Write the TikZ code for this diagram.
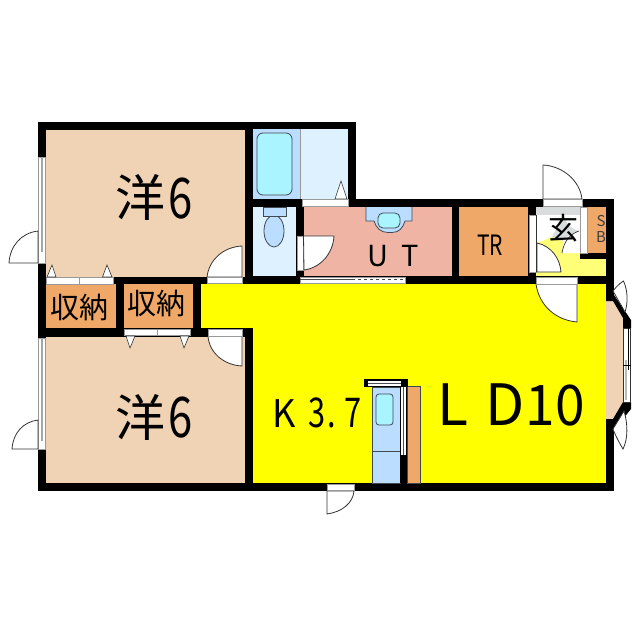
\documentclass[tikz,border=0pt]{standalone}
\usepackage{fontspec}
\setmainfont{Noto Sans CJK JP}
\definecolor{peach}{HTML}{F0D2B4}
\definecolor{closet}{HTML}{F0A868}
\definecolor{utroom}{HTML}{F0B4A4}
\definecolor{pale}{HTML}{DDF1FF}
\definecolor{midblue}{HTML}{BBDDFF}
\definecolor{aqua}{HTML}{AAF4FF}
\definecolor{lemon}{RGB}{255,255,0}
\definecolor{softyellow}{HTML}{FFFF77}
\definecolor{tile}{HTML}{D8DCDC}
\definecolor{edge}{HTML}{404850}
\tikzset{
  wall/.style={fill=black,draw=none},
  sash/.style={fill=white,draw=gray!80,line width=0.7pt},
  leaf/.style={fill=white,draw=black!80,line width=0.8pt},
  fixture/.style={draw=edge,line width=0.8pt},
  label/.style={inner sep=0pt,text=black,transform shape},
  baselabel/.style={label,anchor=base},
}
\begin{document}
\begin{tikzpicture}[x=1pt,y=-1pt]
\useasboundingbox (0,0) rectangle (640,640);
\fill[white] (0,0) rectangle (640,640);
% room floors
\fill[peach] (46,130) rectangle (245,277);
\fill[peach] (46,337) rectangle (245,483);
\fill[closet] (46,284) rectangle (116,328);
\fill[closet] (124,284) rectangle (193,328);
\fill[midblue] (253,129) rectangle (300,199);
\fill[pale] (300,129) rectangle (348,199);
\fill[pale] (253,207) rectangle (296,276);
\fill[utroom] (304,207) rectangle (452,277);
\fill[closet] (459,207) rectangle (528,277);
\fill[closet] (588,207) rectangle (606,253);
\fill[lemon] (201,284) rectangle (253,328);
\fill[lemon] (253,284) rectangle (606,483);
\fill[white] (536,207) rectangle (580,277);
\fill[softyellow] (537,243) -- (552,237) -- (563,241) -- (562,253) -- (606,253) -- (606,277) -- (536,277) -- cycle;
\fill[tile] (536,207) rectangle (580,215);
\fill[tile] (564,215) .. controls (566,224) and (571,229) .. (579,231) .. controls (572,233) and (566,237) .. (563,241) -- (552,237) -- cycle;
\draw[draw=gray!80,line width=0.6pt] (300,129) -- (300,199);
% bay window floor
\fill[peach] (606,301) -- (613,301) -- (623,318) -- (623,402) -- (613,419) -- (606,419) -- cycle;
% walls
\fill[wall] (38,122) rectangle (253,130);
\fill[wall] (245,122) rectangle (356,129);
\fill[wall] (348,122) rectangle (356,207);
\fill[wall] (253,199) rectangle (614,207);
\fill[wall] (38,122) rectangle (46,491);
\fill[wall] (245,122) rectangle (253,284);
\fill[wall] (38,277) rectangle (253,284);
\fill[wall] (296,207) rectangle (304,284);
\fill[wall] (253,276) rectangle (614,284);
\fill[wall] (452,199) rectangle (459,284);
\fill[wall] (528,199) rectangle (536,284);
\fill[wall] (606,199) rectangle (614,301);
\fill[wall] (606,419) rectangle (614,491);
\fill[wall] (580,253) rectangle (614,259);
\fill[wall] (116,284) rectangle (124,328);
\fill[wall] (193,284) rectangle (201,337);
\fill[wall] (38,328) rectangle (253,337);
\fill[wall] (245,328) rectangle (253,491);
\fill[wall] (38,483) rectangle (614,491);
% bay window frame
\fill[wall] (614,295) -- (631,320) -- (631,328) -- (623,328) -- (623,318) -- (613,301) -- (606,301) -- (606,295) -- cycle;
\fill[wall] (623,402) -- (631,402) -- (631,409) -- (614,430) -- (606,430) -- (606,419) -- (613,419) -- (623,402) -- cycle;
\fill[white] (624,328) rectangle (630,402);
\draw[black!80,line width=0.6pt] (623.5,328) rectangle (630.5,402);
\fill[gray!55] (624.5,360) rectangle (626.5,400);
\draw[black,line width=0.6pt] (623,365) -- (631,365);
\draw[black,line width=0.6pt] (628,328) -- (628,370);
\draw[leaf] (613,291) .. controls (616,287) and (620,283) .. (623.5,281) .. controls (628,291) and (628,303) .. (625,312) -- cycle;
\draw[leaf] (613,429) .. controls (616,437) and (620,444) .. (623,449) .. controls (628,439) and (628,424) .. (624,411) -- cycle;
% left windows
\fill[white] (38,157) rectangle (46,263);
\draw[gray!80,line width=0.6pt] (38.4,157) rectangle (45.6,263);
\fill[gray!70] (41,157) rectangle (43,252);
\fill[white] (38,338) rectangle (46,449);
\draw[gray!80,line width=0.6pt] (38.4,338) rectangle (45.6,449);
\fill[gray!70] (41,338) rectangle (43,441);
\draw[leaf] (38,231) .. controls (21,233) and (10,246) .. (9,263) -- (38,263) -- cycle;
\draw[leaf] (38,420) .. controls (23,422) and (13,433) .. (12,449) -- (38,449) -- cycle;
% room doors
\draw[leaf] (242,277) -- (242,246) .. controls (223,247) and (209,260) .. (207,277) -- cycle;
\draw[leaf] (242,336) -- (242,366) .. controls (223,365) and (209,352) .. (208,336) -- cycle;
\draw[sash] (207,277) rectangle (242,283.5);
\draw[sash] (208,329) rectangle (242,336);
% closet doors
\draw[sash] (46,277) rectangle (79.5,284);
\draw[sash] (79.5,277) rectangle (113,284);
\draw[leaf,line width=0.6pt] (47,277) -- (52,265) -- (56,277) -- cycle;
\draw[leaf,line width=0.6pt] (102.5,277) -- (107,265) -- (112,277) -- cycle;
\draw[sash] (124.5,329) rectangle (157,335.5);
\draw[sash] (157,329) rectangle (190,335.5);
\draw[leaf,line width=0.6pt] (126,336) -- (130,348) -- (135,336) -- cycle;
\draw[leaf,line width=0.6pt] (180,336) -- (184,348) -- (189,336) -- cycle;
% bath fixtures
\filldraw[fixture,fill=aqua,rounded corners=6pt] (257,133) rectangle (292,195);
\draw[leaf,line width=0.6pt] (335,199) -- (341,181) -- (347,199) -- cycle;
\fill[white] (302,199.5) rectangle (348,206);
\draw[gray!80,line width=0.5pt] (302,199.5) rectangle (348,206);
% toilet
\filldraw[fixture,fill=midblue] (274,231) ellipse [x radius=10pt,y radius=16pt];
\filldraw[fixture,fill=midblue] (263,207) rectangle (286,216);
% washbasin
\filldraw[fixture,fill=midblue] (366,207) -- (366,221) -- (374,221) .. controls (376,228) and (381,232.5) .. (388,232.5) -- (392,232.5) .. controls (399,232.5) and (403,228) .. (405,221) -- (412,221) -- (412,207);
\filldraw[fixture,fill=aqua,rounded corners=5pt] (378,213) rectangle (400,228);
% UT door and sliding door
\draw[sash] (297,236) rectangle (303.5,270);
\draw[leaf] (303.5,236) -- (334,236) .. controls (333,254) and (320,268) .. (304,270) -- cycle;
\fill[white] (300,277.5) rectangle (405,283.5);
\draw[gray!80,line width=0.6pt] (300,277.5) rectangle (405,283.5);
\draw[black!70,line width=0.7pt] (300,279.5) -- (352,279.5);
\draw[black!70,line width=0.7pt,dashed] (352,279.5) -- (405,279.5);
% entry
\fill[white] (529,215) rectangle (536,272);
\draw[gray!80,line width=0.5pt] (529,215) rectangle (536,272);
\draw[black!80,line width=0.7pt] (536.5,215) -- (536.5,272);
\draw[leaf] (537,243) .. controls (551,246) and (560,258) .. (561,272) -- (537,272) -- cycle;
\fill[white] (580,207) rectangle (587,253);
\draw[gray!80,line width=0.5pt] (580,207) rectangle (587,253);
\fill[white] (579,231) .. controls (570,234) and (564,241) .. (562,253) -- (580,253) -- cycle;
\draw[black!80,line width=0.7pt] (579,231) .. controls (570,234) and (564,241) .. (562,253);
\draw[leaf] (543,199) -- (543,165) .. controls (563,166) and (580,181) .. (582,199) -- cycle;
\draw[sash] (543,199.5) rectangle (582,206);
\draw[leaf] (577,284) -- (577,322) .. controls (555,320) and (539,305) .. (536,284) -- cycle;
\draw[sash] (536,277) rectangle (577,284);
% kitchen
\filldraw[fixture,fill=midblue] (372,387) rectangle (400,483);
\draw[fixture] (372,451) -- (400,451);
\filldraw[fixture,fill=aqua,rounded corners=3pt] (376,394) rectangle (393,425);
\filldraw[fixture,fill=closet] (407,386) rectangle (420,483);
\fill[wall] (400,379) rectangle (407,483);
\fill[wall] (364,379) rectangle (408,387);
\fill[white] (368,381) rectangle (401,386);
\draw[black!70,line width=0.5pt] (368,383.5) -- (401,383.5);
\fill[white] (400.7,387) rectangle (406.3,455);
\draw[black!70,line width=0.5pt] (403.5,387) -- (403.5,455);
% back door
\draw[leaf] (327,491) -- (327,514) .. controls (342,512) and (353,503) .. (354,491) -- cycle;
\draw[sash] (327,484) rectangle (354,490.5);
% labels
\node[label,font=\fontsize{50}{50}\selectfont] (w1) at (140.5,197) {洋};
\node[baselabel,font=\fontsize{56}{56}\selectfont,xscale=0.78] (w1n) at (181,218) {6};
\node[label,font=\fontsize{50}{50}\selectfont] (w2) at (140.5,417) {洋};
\node[baselabel,font=\fontsize{56}{56}\selectfont,xscale=0.78] (w2n) at (181,437) {6};
\node[label,font=\fontsize{29}{29}\selectfont] (c1) at (79,307.5) {収納};
\node[label,font=\fontsize{29}{29}\selectfont] (c2) at (156,303.5) {収納};
\node[baselabel,font=\fontsize{29}{29}\selectfont] (ut1) at (378,266) {U};
\node[baselabel,font=\fontsize{29}{29}\selectfont] (ut2) at (410,266) {T};
\node[label,font=\fontsize{28}{28}\selectfont,xscale=0.75] (tr) at (490,245.5) {TR};
\node[baselabel,font=\fontsize{38}{38}\selectfont,xscale=0.95] (k1) at (284,427) {K};
\node[baselabel,font=\fontsize{41}{41}\selectfont,xscale=0.75] (k2) at (317,427) {3};
\node[baselabel,font=\fontsize{41}{41}\selectfont,xscale=0.75] (k3) at (332,427) {.};
\node[baselabel,font=\fontsize{41}{41}\selectfont,xscale=0.75] (k4) at (353,427) {7};
\node[baselabel,font=\fontsize{57}{57}\selectfont] (l1) at (453,425) {L};
\node[baselabel,font=\fontsize{57}{57}\selectfont] (l2) at (505,425) {D};
\node[baselabel,font=\fontsize{56}{56}\selectfont,xscale=0.95] (l3) at (555,425) {10};
\node[label,font=\fontsize{30}{30}\selectfont] (gk) at (563,228) {玄};
\node[label,font=\fontsize{15}{15}\selectfont,text=black!75] (s1) at (601,221) {S};
\node[label,font=\fontsize{15}{15}\selectfont,text=black!75] (s2) at (601,237) {B};
\end{tikzpicture}
\end{document}
